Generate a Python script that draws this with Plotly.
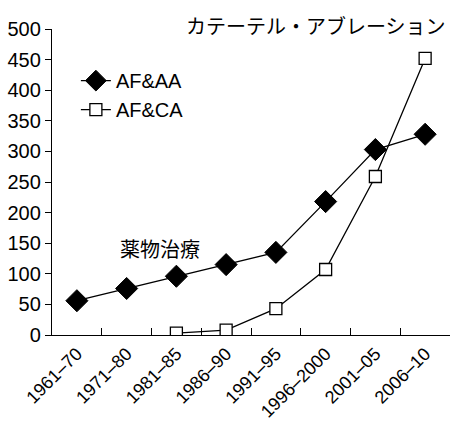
import plotly.graph_objects as go

periods = ["1961–70", "1971–80", "1981–85", "1986–90", "1991–95",
           "1996–2000", "2001–05", "2006–10"]
af_aa = [56, 76, 96, 115, 135, 218, 303, 328]
af_ca = [None, None, 3, 8, 43, 107, 259, 452]

font_latin = "Liberation Sans, Arial, sans-serif"
font_jp = "Noto Sans CJK JP, sans-serif"

fig = go.Figure()
fig.add_trace(go.Scatter(
    x=periods, y=af_aa, name="AF&AA", mode="lines+markers",
    line=dict(color="black", width=1.3),
    marker=dict(symbol="diamond", size=17, color="black",
                line=dict(color="black", width=1)),
))
fig.add_trace(go.Scatter(
    x=periods, y=af_ca, name="AF&CA", mode="lines+markers",
    line=dict(color="black", width=1.3),
    marker=dict(symbol="square", size=12, color="white",
                line=dict(color="black", width=1.3)),
))

fig.add_annotation(text="薬物治療", x=1.68, y=142, xref="x", yref="y",
                   showarrow=False, font=dict(family=font_jp, size=20, color="black"))
fig.add_annotation(text="カテーテル・アブレーション", x=0.664, y=1.013,
                   xref="paper", yref="paper", xanchor="center", yanchor="middle",
                   showarrow=False,
                   font=dict(family=font_jp, size=20, color="black"))

fig.update_layout(
    width=454, height=424,
    margin=dict(l=52, r=4, t=29, b=89),
    paper_bgcolor="white", plot_bgcolor="white",
    font=dict(family=font_latin, size=20, color="black"),
    showlegend=True,
    legend=dict(x=0.06, y=0.895, xanchor="left", yanchor="top",
                bgcolor="rgba(0,0,0,0)", font=dict(size=20),
                itemwidth=30, tracegroupgap=0),
    xaxis=dict(
        type="category", range=[-0.5, 7.5], tickson="boundaries",
        showline=True, linecolor="black", linewidth=1.3,
        ticks="inside", ticklen=7, tickcolor="black", tickwidth=1.3,
        tickangle=-45, showgrid=False, zeroline=False, automargin=False,
        tickfont=dict(size=18),
    ),
    yaxis=dict(
        range=[0, 500], dtick=50, showline=True, linecolor="black",
        linewidth=1.3, ticks="outside", ticklen=6, tickcolor="black",
        tickwidth=1.3, showgrid=False, zeroline=False, automargin=False,
        tickfont=dict(size=20),
    ),
)

fig.write_html("out.html")
